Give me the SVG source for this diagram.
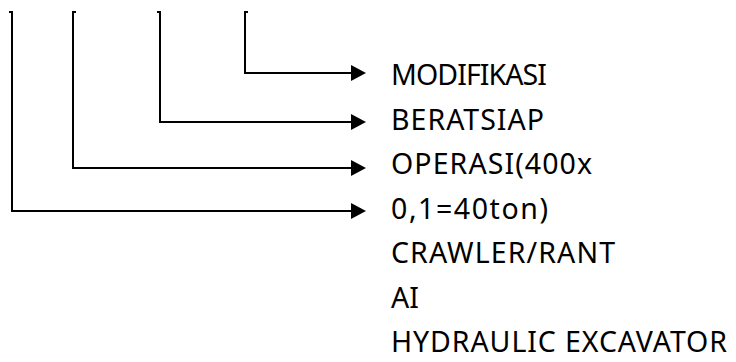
<svg xmlns="http://www.w3.org/2000/svg" width="736" height="362" viewBox="0 0 736 362">
  <defs>
    <marker id="arrow" markerUnits="userSpaceOnUse" markerWidth="16" markerHeight="16" refX="0" refY="8" orient="auto">
      <path d="M0,0 L15,8 L0,16 Z" fill="#000"/>
    </marker>
    <style>
      .conn { fill: none; stroke: #000; stroke-width: 2; marker-end: url(#arrow); }
      .lbl { font-family: "Noto Sans", "DejaVu Sans", sans-serif; font-size: 28.5px; fill: #000; }
    </style>
  </defs>
  <rect width="736" height="362" fill="#fff"/>
  <g id="connectors">
    <path class="conn" d="M9,12 H12 V211 H351"/>
    <path class="conn" d="M76,12 H73 V168 H351"/>
    <path class="conn" d="M157,12 H160 V122 H351"/>
    <path class="conn" d="M248,12 H245 V73 H351"/>
  </g>
  <g id="node-modifikasi"><text class="lbl" x="391" y="85" textLength="156" lengthAdjust="spacing">MODIFIKASI</text></g>
  <g id="node-beratsiap"><text class="lbl" x="391" y="130" textLength="153" lengthAdjust="spacing">BERATSIAP</text></g>
  <g id="node-operasi"><text class="lbl" x="391" y="174" textLength="201" lengthAdjust="spacing">OPERASI(400x</text></g>
  <g id="node-ton"><text class="lbl" x="391" y="219" textLength="157" lengthAdjust="spacing">0,1=40ton)</text></g>
  <g id="node-crawler"><text class="lbl" x="391" y="263" textLength="224" lengthAdjust="spacing">CRAWLER/RANT</text></g>
  <g id="node-ai"><text class="lbl" x="391" y="308">AI</text></g>
  <g id="node-hydraulic"><text class="lbl" x="391" y="352" textLength="336" lengthAdjust="spacing">HYDRAULIC EXCAVATOR</text></g>
</svg>
